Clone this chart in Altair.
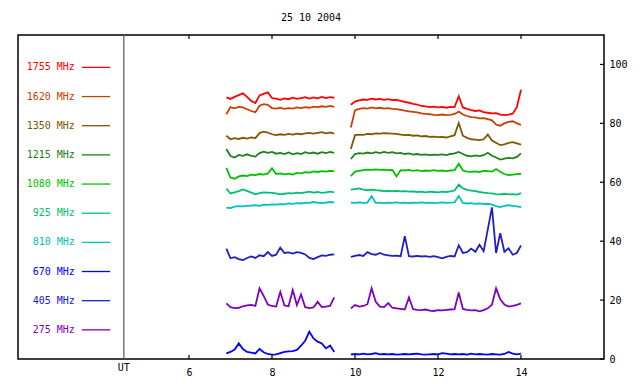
import altair as alt
import pandas as pd

# time grids (UT hours) for the two observing segments
T1 = [6.9, 7.0, 7.1, 7.2, 7.3, 7.4, 7.5, 7.6, 7.7, 7.8, 7.9, 8.0, 8.1, 8.2, 8.3,
      8.4, 8.5, 8.6, 8.7, 8.8, 8.9, 9.0, 9.1, 9.2, 9.3, 9.4, 9.5]
T2 = [9.9, 10.0, 10.1, 10.2, 10.3, 10.4, 10.5, 10.6, 10.7, 10.8, 10.9, 11.0, 11.1,
      11.2, 11.3, 11.4, 11.5, 11.6, 11.7, 11.8, 11.9, 12.0, 12.1, 12.2, 12.3, 12.4,
      12.5, 12.6, 12.7, 12.8, 12.9, 13.0, 13.1, 13.2, 13.3, 13.4, 13.5, 13.6, 13.7,
      13.8, 13.9, 14.0]

LABELS = ["1755 MHz", "1620 MHz", "1350 MHz", "1215 MHz", "1080 MHz",
          "925 MHz", "810 MHz", "670 MHz", "405 MHz", "275 MHz"]
COLORS = ["#ff0000", "#c84000", "#805800", "#208020", "#00c000",
          "#00c070", "#00c0c0", "#0000ff", "#2020c0", "#8000c0"]
LEGEND_Y = [99.0, 89.1, 79.2, 69.3, 59.4, 49.5, 39.6, 29.7, 19.8, 9.9]

S1755_A = [88.8, 88.3, 89.0, 89.6, 90.2, 89.0, 87.6, 86.9, 89.5, 90.0, 90.5, 88.6, 88.4, 88.0,
           88.5, 88.2, 88.7, 88.3, 88.6, 88.9, 88.4, 88.8, 88.5, 89.0, 88.6, 88.9, 88.7]
S1755_B = [86.3, 87.4, 87.8, 88.1, 88.0, 88.4, 88.1, 88.3, 88.0, 88.2, 87.9, 88.0, 87.6, 87.3,
           87.0, 86.6, 86.4, 85.9, 85.8, 85.5, 85.7, 85.4, 85.6, 85.3, 85.6, 85.5, 89.2, 85.4,
           84.9, 84.5, 84.2, 84.4, 83.8, 83.6, 83.4, 83.5, 83.0, 82.8, 83.0, 83.3, 85.5, 91.4]
S1620_A = [83.1, 85.5, 85.1, 85.6, 85.4, 84.8, 84.2, 83.8, 86.0, 86.5, 86.3, 85.2, 85.0, 85.3,
           84.9, 85.2, 85.0, 85.4, 85.2, 85.5, 85.3, 85.7, 85.5, 85.8, 85.6, 85.9, 85.6]
S1620_B = [78.6, 84.4, 84.9, 85.2, 85.0, 85.4, 85.1, 85.3, 85.0, 85.2, 84.9, 84.8, 84.6, 84.3,
           84.1, 83.9, 83.7, 83.4, 83.2, 83.1, 82.9, 82.8, 83.0, 82.8, 82.9, 83.2, 84.0, 83.0,
           82.5, 82.1, 82.0, 81.7, 81.8, 81.4, 81.0, 79.6, 79.2, 80.0, 80.5, 80.7, 80.0, 79.5]
S1350_A = [75.8, 74.6, 75.0, 74.7, 75.1, 74.8, 75.2, 75.0, 76.7, 77.2, 76.9, 76.3, 76.0, 76.3,
           76.1, 76.4, 76.2, 76.5, 76.3, 76.6, 76.8, 76.5, 76.8, 77.0, 76.6, 76.9, 76.5]
S1350_B = [71.3, 76.0, 76.2, 76.1, 76.4, 76.3, 76.6, 76.5, 76.7, 76.6, 76.5, 76.4, 76.2, 76.0,
           76.1, 75.8, 75.9, 75.6, 75.7, 75.4, 75.5, 75.3, 75.4, 75.2, 75.6, 76.0, 80.1, 75.8,
           75.1, 74.6, 74.5, 74.3, 74.6, 76.2, 74.2, 73.4, 72.6, 72.9, 73.4, 73.6, 73.2, 72.8]
S1215_A = [71.3, 68.9, 68.4, 69.3, 69.0, 69.5, 69.0, 68.7, 69.9, 70.4, 70.0, 70.3, 69.7, 70.0,
           69.6, 70.1, 69.5, 69.9, 69.6, 70.2, 69.8, 70.1, 69.7, 70.2, 69.9, 70.3, 70.0]
S1215_B = [67.9, 69.6, 69.9, 69.7, 70.1, 69.8, 70.2, 69.9, 70.3, 70.0, 70.2, 69.8, 70.0, 69.6,
           69.8, 69.4, 69.6, 69.3, 69.5, 69.2, 69.4, 69.3, 69.5, 69.2, 69.6, 69.8, 70.3, 69.6,
           69.0, 68.8, 69.1, 68.9, 69.2, 70.0, 69.0, 68.4, 67.7, 68.0, 68.3, 68.1, 68.6, 69.8]
S1080_A = [64.9, 61.6, 61.2, 62.0, 62.3, 62.1, 62.6, 62.4, 62.8, 62.6, 63.0, 64.8, 62.8, 63.0,
           62.7, 62.9, 62.6, 63.2, 63.0, 63.4, 63.3, 63.7, 63.5, 63.8, 63.6, 63.9, 63.7]
S1080_B = [62.1, 63.6, 63.9, 64.1, 64.3, 64.2, 64.4, 64.2, 64.3, 64.1, 64.2, 62.0, 64.1, 64.0,
           64.2, 63.9, 64.1, 63.8, 64.0, 63.9, 64.1, 63.9, 64.0, 63.8, 64.0, 64.1, 66.3, 64.0,
           63.6, 63.5, 63.7, 63.5, 63.9, 63.8, 63.6, 64.5, 63.6, 62.8, 62.4, 62.6, 62.8, 62.9]
S925_A = [57.9, 56.2, 56.6, 57.0, 57.6, 57.1, 56.5, 55.9, 56.3, 56.6, 56.5, 56.4, 56.2, 55.9,
          56.1, 56.3, 56.2, 56.5, 56.3, 56.6, 56.8, 56.5, 56.7, 56.4, 56.6, 56.8, 56.6]
S925_B = [57.5, 57.7, 57.9, 57.5, 57.3, 57.5, 57.3, 57.2, 57.0, 57.1, 57.0, 57.1, 56.9, 57.0,
          56.8, 56.9, 56.7, 56.8, 56.6, 56.8, 56.7, 56.6, 56.8, 56.7, 56.9, 57.2, 59.2, 57.9,
          57.4, 57.2, 57.0, 56.7, 56.5, 56.3, 56.2, 56.0, 55.9, 56.1, 55.9, 56.0, 55.8, 56.3]
S810_A = [51.4, 51.2, 51.7, 51.9, 51.8, 52.0, 52.1, 52.2, 52.0, 52.4, 52.3, 52.5, 52.4, 52.6,
          52.5, 52.8, 52.7, 52.9, 52.8, 53.1, 53.0, 53.3, 53.1, 52.9, 53.1, 53.3, 53.2]
S810_B = [53.1, 53.0, 53.2, 53.0, 53.1, 55.3, 53.0, 53.1, 52.9, 53.1, 53.0, 53.2, 53.0, 53.1,
          52.9, 53.1, 53.0, 53.2, 53.0, 53.1, 52.9, 53.0, 53.2, 53.0, 53.1, 53.2, 55.3, 53.0,
          52.8, 52.9, 52.7, 52.8, 52.6, 52.7, 52.4, 51.9, 51.6, 52.0, 52.2, 52.0, 51.8, 51.6]
S670_A = [1.9, 2.4, 3.2, 5.3, 3.4, 2.4, 2.2, 1.9, 3.4, 2.3, 1.7, 1.5, 1.6, 2.0,
          2.4, 2.6, 2.7, 3.1, 4.5, 6.2, 9.3, 7.0, 5.9, 5.3, 3.6, 4.6, 2.4]
S670_B = [1.6, 1.7, 1.6, 1.8, 1.6, 1.7, 2.0, 1.6, 1.7, 1.6, 1.7, 1.5, 1.6, 1.7,
          1.6, 1.7, 1.8, 1.6, 1.5, 1.6, 1.7, 1.6, 2.0, 1.8, 1.6, 1.7, 1.6, 1.7,
          1.5, 1.8, 1.6, 1.7, 1.6, 1.5, 1.7, 1.6, 1.5, 1.7, 2.4, 1.8, 1.6, 1.8]
S405_A = [37.5, 34.2, 34.6, 33.9, 33.6, 34.3, 34.8, 34.3, 35.2, 34.9, 36.3, 35.0, 35.4, 37.8,
          36.0, 36.2, 35.8, 36.3, 36.0, 35.5, 34.3, 33.9, 34.6, 35.2, 35.0, 35.4, 35.5]
S405_B = [34.7, 35.0, 35.3, 35.0, 36.3, 35.6, 35.4, 36.0, 35.4, 35.2, 35.0, 35.1, 34.9, 41.7,
          34.9, 34.8, 35.0, 34.8, 34.9, 34.7, 34.9, 34.6, 34.2, 34.7, 35.0, 34.8, 38.6, 36.0,
          36.3, 37.5, 36.4, 38.8, 36.6, 44.0, 51.5, 36.0, 42.7, 36.4, 37.6, 35.4, 36.0, 38.6]
S275_A = [18.9, 17.6, 17.3, 17.4, 17.9, 18.2, 18.4, 18.0, 24.0, 21.4, 18.5, 18.0, 17.8, 22.8,
          18.2, 17.9, 23.4, 18.3, 21.9, 17.6, 17.3, 17.5, 19.4, 17.6, 17.8, 18.0, 20.9]
S275_B = [17.2, 18.3, 17.8, 18.0, 18.6, 24.0, 19.4, 17.8, 17.6, 19.0, 17.4, 17.2, 17.0, 16.8,
          20.9, 16.9, 16.7, 16.6, 16.8, 16.4, 16.3, 16.6, 16.5, 16.7, 16.8, 16.9, 22.6, 17.0,
          16.7, 16.5, 16.6, 16.2, 16.6, 17.2, 18.4, 24.0, 20.3, 18.5, 17.8, 18.0, 18.4, 18.9]

SERIES = [(S1755_A, S1755_B), (S1620_A, S1620_B), (S1350_A, S1350_B), (S1215_A, S1215_B),
          (S1080_A, S1080_B), (S925_A, S925_B), (S810_A, S810_B), (S670_A, S670_B),
          (S405_A, S405_B), (S275_A, S275_B)]

X_TICKS = [6, 8, 10, 12, 14]
Y_TICKS = [0, 20, 40, 60, 80, 100]
UT_POS = 4.43
LEG_TEXT_X = 3.25
LEG_LINE_X1 = 3.42
LEG_LINE_X2 = 4.10

rows = []
for lab, col, (a, b) in zip(LABELS, COLORS, SERIES):
    for seg, (ts, vs) in enumerate([(T1, a), (T2, b)]):
        for t, v in zip(ts, vs):
            rows.append({"t": t, "v": v, "color": col, "key": f"{lab}-{seg}"})
df = pd.DataFrame(rows)

leg = pd.DataFrame({"label": LABELS, "color": COLORS, "ly": LEGEND_Y,
                    "lx": [LEG_TEXT_X] * len(LABELS),
                    "x1": [LEG_LINE_X1] * len(LABELS),
                    "x2": [LEG_LINE_X2] * len(LABELS)})

FONT = "DejaVu Sans Mono"
W, H = 586, 324
xs = alt.Scale(domain=[1.88, 16], nice=False, zero=False)
ys = alt.Scale(domain=[0, 110], nice=False, zero=False)
XAX = alt.Axis(values=X_TICKS, ticks=False, domain=False, grid=False,
               labelFont=FONT, labelFontSize=10, labelColor="black",
               labelPadding=8, title=None, labelFlush=False)
YAX = alt.Axis(orient="right", values=Y_TICKS, ticks=False, domain=False,
               grid=False, labelFont=FONT, labelFontSize=10,
               labelColor="black", labelPadding=5, title=None, labelFlush=False)

lines = alt.Chart(df).mark_line(strokeWidth=1.8, clip=True).encode(
    x=alt.X("t:Q", scale=xs, axis=XAX),
    y=alt.Y("v:Q", scale=ys, axis=YAX),
    color=alt.Color("color:N", scale=None),
    detail="key:N",
    order="t:Q",
)

sep = alt.Chart(pd.DataFrame({"x": [UT_POS]})).mark_rule(color="#606060", strokeWidth=1.3).encode(
    x=alt.X("x:Q", scale=xs, axis=XAX), y=alt.value(0), y2=alt.value(H))

tick_df = pd.DataFrame({"x": X_TICKS})
ticks_bottom = alt.Chart(tick_df).mark_rule(color="black", strokeWidth=1.2).encode(
    x=alt.X("x:Q", scale=xs, axis=XAX), y=alt.value(H), y2=alt.value(H - 4))
ticks_top = alt.Chart(tick_df).mark_rule(color="black", strokeWidth=1.2).encode(
    x=alt.X("x:Q", scale=xs, axis=XAX), y=alt.value(0), y2=alt.value(4))
ticks_right = alt.Chart(pd.DataFrame({"y": Y_TICKS})).mark_rule(color="black", strokeWidth=1.2).encode(
    y=alt.Y("y:Q", scale=ys, axis=YAX), x=alt.value(W), x2=alt.value(W - 4))

leg_text = alt.Chart(leg).mark_text(align="right", baseline="middle", font=FONT, fontSize=10).encode(
    x=alt.X("lx:Q", scale=xs, axis=XAX), y=alt.Y("ly:Q", scale=ys, axis=YAX),
    text="label:N", color=alt.Color("color:N", scale=None))
leg_line = alt.Chart(leg).mark_rule(strokeWidth=1.3).encode(
    x=alt.X("x1:Q", scale=xs, axis=XAX), x2="x2:Q", y=alt.Y("ly:Q", scale=ys, axis=YAX),
    color=alt.Color("color:N", scale=None))

one = pd.DataFrame({"a": [0]})
title = alt.Chart(one).mark_text(font=FONT, fontSize=10, baseline="middle", align="center",
                                 color="black").encode(
    x=alt.value(W / 2), y=alt.value(-17), text=alt.value("25 10 2004"))
ut = alt.Chart(pd.DataFrame({"x": [UT_POS]})).mark_text(font=FONT, fontSize=10, baseline="middle",
                                                         align="center", color="black").encode(
    x=alt.X("x:Q", scale=xs, axis=XAX), y=alt.value(H + 9), text=alt.value("UT"))

chart = alt.layer(lines, sep, ticks_bottom, ticks_top, ticks_right, leg_line, leg_text, title, ut).properties(
    width=W, height=H, autosize="none",
    padding={"left": 10, "top": 27, "right": 26, "bottom": 20},
    background="white",
).configure_view(stroke="black", strokeWidth=1.5)

chart.save("out.html", embed_options={"renderer": "svg", "actions": False})
